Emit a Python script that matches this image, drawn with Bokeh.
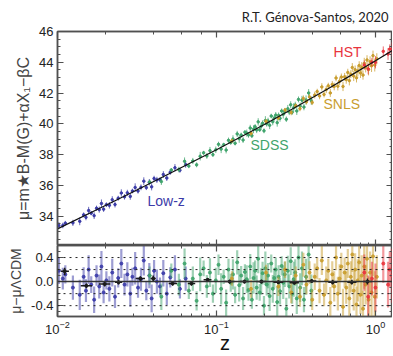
import numpy as np
from bokeh.plotting import figure
from bokeh.models import (Range1d, LogAxis, LinearAxis, SingleIntervalTicker,
                          Span, Label, NumeralTickFormatter)
from bokeh.layouts import column
from bokeh.embed import file_html
from bokeh.resources import INLINE

# ---------------- data ----------------
model_z = [0.01, 0.02, 0.03, 0.05, 0.1, 0.2, 0.3, 0.5, 0.7, 1.0, 1.3]
model_mu = [33.18, 34.70, 35.59, 36.74, 38.32, 39.96, 40.96, 42.26, 43.15, 44.10, 44.81]

lowz_z = [0.0102, 0.0108, 0.0112, 0.0125, 0.0138, 0.0146, 0.0151, 0.0157, 0.0163, 0.0170,
          0.0176, 0.0183, 0.0189, 0.0195, 0.0203, 0.0212, 0.0221, 0.0230, 0.0241, 0.0252,
          0.0264, 0.0275, 0.0287, 0.0296, 0.0308, 0.0321, 0.0335, 0.0349, 0.0362, 0.0378,
          0.0391, 0.0405, 0.0422, 0.0441, 0.0463, 0.0487, 0.0512, 0.0548, 0.0589, 0.0640]
lowz_mu = [33.40, 33.40, 33.55, 33.57, 33.67, 34.09, 33.93, 34.37, 34.20, 34.04,
           34.52, 34.43, 34.83, 34.46, 34.75, 34.71, 35.07, 34.76, 35.17, 35.51,
           35.26, 35.52, 35.29, 35.64, 35.87, 35.64, 35.88, 36.28, 35.86, 36.21,
           35.91, 36.45, 36.36, 36.38, 36.71, 36.48, 36.86, 37.15, 36.99, 37.35]
lowz_res = [0.18, 0.05, 0.12, -0.10, -0.22, 0.08, -0.15, 0.20, -0.05, -0.30,
            0.10, -0.08, 0.25, -0.18, 0.02, -0.12, 0.15, -0.25, 0.06, 0.30,
            -0.05, 0.12, -0.20, 0.08, 0.22, -0.10, 0.04, 0.35, -0.15, 0.10,
            -0.28, 0.18, 0.00, -0.08, 0.14, -0.20, 0.07, 0.20, -0.12, 0.05]
lowz_err = [0.22, 0.18, 0.15, 0.20, 0.25, 0.16, 0.19, 0.24, 0.14, 0.22,
            0.17, 0.20, 0.26, 0.18, 0.15, 0.21, 0.23, 0.19, 0.16, 0.24,
            0.18, 0.20, 0.22, 0.15, 0.27, 0.17, 0.19, 0.25, 0.16, 0.21,
            0.23, 0.18, 0.20, 0.15, 0.22, 0.19, 0.17, 0.24, 0.16, 0.20]

sdss_z = [0.038, 0.045, 0.052, 0.058, 0.063, 0.067, 0.071, 0.075, 0.079, 0.083,
          0.087, 0.091, 0.095, 0.099, 0.103, 0.107, 0.111, 0.115, 0.119, 0.123,
          0.127, 0.131, 0.135, 0.139, 0.143, 0.147, 0.151, 0.155, 0.159, 0.163,
          0.167, 0.171, 0.175, 0.179, 0.183, 0.187, 0.191, 0.195, 0.199, 0.203,
          0.207, 0.211, 0.216, 0.221, 0.226, 0.231, 0.236, 0.241, 0.246, 0.251,
          0.257, 0.263, 0.269, 0.275, 0.281, 0.287, 0.293, 0.299, 0.306, 0.313,
          0.320, 0.328, 0.336, 0.345, 0.355, 0.366, 0.380, 0.395]
sdss_mu = [36.22, 36.25, 37.01, 37.03, 37.57, 37.26, 37.59, 37.34, 37.90, 38.12,
           37.92, 38.26, 38.00, 38.32, 38.67, 38.36, 38.65, 38.30, 38.93, 38.79,
           39.01, 38.74, 39.35, 39.04, 39.27, 38.95, 39.46, 39.40, 39.28, 39.73,
           39.23, 39.65, 39.82, 39.60, 40.13, 39.62, 39.85, 40.04, 39.55, 40.22,
           40.00, 40.19, 39.91, 40.51, 40.14, 40.38, 40.57, 40.08, 40.55, 40.36,
           40.84, 40.62, 40.81, 40.30, 40.98, 40.77, 41.24, 40.75, 41.05, 41.22,
           40.84, 41.59, 41.15, 41.54, 41.09, 41.55, 42.01, 41.51]
sdss_res = [0.10, -0.25, 0.18, -0.05, 0.30, -0.15, 0.05, -0.32, 0.12, 0.22,
            -0.08, 0.15, -0.20, 0.02, 0.28, -0.12, 0.08, -0.35, 0.20, -0.02,
            0.12, -0.22, 0.32, -0.06, 0.10, -0.28, 0.16, 0.04, -0.14, 0.25,
            -0.30, 0.06, 0.18, -0.10, 0.38, -0.18, 0.00, 0.14, -0.40, 0.22,
            -0.05, 0.10, -0.24, 0.30, -0.12, 0.06, 0.20, -0.34, 0.08, -0.16,
            0.26, -0.02, 0.12, -0.45, 0.18, -0.08, 0.34, -0.20, 0.04, 0.15,
            -0.28, 0.40, -0.10, 0.22, -0.30, 0.08, 0.45, -0.15]
sdss_err = [0.15, 0.22, 0.12, 0.18, 0.25, 0.14, 0.20, 0.16, 0.28, 0.13,
            0.19, 0.24, 0.15, 0.21, 0.17, 0.26, 0.12, 0.22, 0.18, 0.15,
            0.25, 0.14, 0.20, 0.27, 0.16, 0.19, 0.13, 0.23, 0.18, 0.21,
            0.15, 0.26, 0.17, 0.20, 0.24, 0.14, 0.22, 0.19, 0.16, 0.28,
            0.18, 0.21, 0.25, 0.15, 0.23, 0.17, 0.20, 0.26, 0.19, 0.22,
            0.16, 0.27, 0.21, 0.18, 0.25, 0.20, 0.23, 0.17, 0.29, 0.22,
            0.26, 0.19, 0.24, 0.28, 0.21, 0.30, 0.25, 0.27]

snls_z = [0.125, 0.165, 0.205, 0.245, 0.270, 0.295, 0.315, 0.335, 0.352, 0.368,
          0.385, 0.400, 0.415, 0.430, 0.445, 0.460, 0.475, 0.490, 0.505, 0.520,
          0.535, 0.550, 0.565, 0.580, 0.595, 0.610, 0.625, 0.640, 0.655, 0.670,
          0.685, 0.700, 0.715, 0.730, 0.745, 0.760, 0.775, 0.790, 0.805, 0.820,
          0.835, 0.850, 0.868, 0.885, 0.905, 0.925, 0.945, 0.965, 0.990, 1.020]
snls_mu = [38.90, 39.39, 40.17, 40.38, 40.90, 40.74, 41.18, 40.99, 41.65, 41.43,
           41.75, 41.39, 41.87, 42.10, 41.81, 42.40, 41.91, 42.23, 42.47, 42.01,
           42.56, 42.43, 42.98, 42.45, 42.77, 43.04, 42.43, 43.06, 42.88, 43.34,
           42.81, 43.23, 43.66, 43.11, 43.52, 42.99, 43.44, 43.79, 43.30, 43.67,
           43.17, 43.92, 43.67, 44.15, 43.53, 44.04, 43.77, 44.43, 43.82, 44.23]
snls_res = [0.05, -0.12, 0.15, -0.08, 0.20, -0.18, 0.10, -0.25, 0.28, -0.05,
            0.15, -0.30, 0.08, 0.22, -0.15, 0.35, -0.22, 0.02, 0.18, -0.35,
            0.12, -0.08, 0.40, -0.20, 0.05, 0.25, -0.42, 0.15, -0.10, 0.30,
            -0.28, 0.08, 0.45, -0.15, 0.20, -0.38, 0.02, 0.32, -0.22, 0.10,
            -0.45, 0.25, -0.05, 0.38, -0.30, 0.15, -0.18, 0.42, -0.25, 0.08]
snls_err = [0.12, 0.15, 0.13, 0.16, 0.14, 0.18, 0.15, 0.17, 0.20, 0.16,
            0.19, 0.17, 0.22, 0.18, 0.21, 0.24, 0.19, 0.23, 0.20, 0.26,
            0.22, 0.25, 0.21, 0.28, 0.24, 0.23, 0.30, 0.25, 0.27, 0.24,
            0.31, 0.26, 0.29, 0.33, 0.27, 0.30, 0.35, 0.28, 0.32, 0.34,
            0.30, 0.37, 0.33, 0.31, 0.38, 0.35, 0.40, 0.33, 0.42, 0.36]

hst_z = [0.85, 0.90, 0.95, 1.00, 1.12, 1.20, 1.23, 1.27, 1.30]
hst_mu = [43.82, 43.57, 44.01, 44.00, 44.71, 44.54, 44.86, 44.85, 45.06]
hst_res = [0.15, -0.25, 0.05, -0.10, 0.30, -0.05, 0.20, 0.10, 0.25]
hst_err = [0.30, 0.35, 0.28, 0.40, 0.32, 0.38, 0.30, 0.45, 0.35]

bin_z = [0.0111, 0.0152, 0.0198, 0.0242, 0.0332, 0.0400, 0.0530, 0.0696, 0.0880,
         0.121, 0.150, 0.192, 0.245, 0.309, 0.397, 0.538, 0.710, 0.890]
bin_lo = [0.0105, 0.0140, 0.0182, 0.0230, 0.0310, 0.0385, 0.0500, 0.0660, 0.0830,
          0.112, 0.140, 0.178, 0.228, 0.288, 0.370, 0.505, 0.665, 0.835]
bin_hi = [0.0118, 0.0165, 0.0215, 0.0255, 0.0355, 0.0415, 0.0565, 0.0735, 0.0930,
          0.130, 0.160, 0.206, 0.263, 0.330, 0.425, 0.575, 0.760, 0.950]
bin_res = [0.17, -0.07, -0.04, -0.01, 0.05, 0.05, -0.03, -0.03, 0.03,
           0.00, 0.00, 0.00, -0.01, -0.02, 0.01, -0.01, -0.01, 0.00]
bin_err = [0.06, 0.04, 0.04, 0.04, 0.04, 0.05, 0.04, 0.04, 0.03,
           0.03, 0.03, 0.03, 0.03, 0.03, 0.03, 0.04, 0.04, 0.05]

# ---------------- styling ----------------
FONT = "Liberation Sans"
FRAME_C = "#505050"
C_LOWZ, C_SDSS, C_SNLS, C_HST = "#3b3ba8", "#3fa46c", "#c99d2e", "#e8343c"
surveys = [
    (lowz_z, lowz_mu, lowz_res, lowz_err, C_LOWZ),
    (sdss_z, sdss_mu, sdss_res, sdss_err, C_SDSS),
    (snls_z, snls_mu, snls_res, snls_err, C_SNLS),
    (hst_z, hst_mu, hst_res, hst_err, C_HST),
]
X_RANGE = Range1d(0.01, 1.28)


def style_axis(ax, labels=True):
    ax.major_tick_in = 6
    ax.major_tick_out = 0
    ax.minor_tick_in = 3
    ax.minor_tick_out = 0
    ax.axis_line_color = FRAME_C
    ax.axis_line_width = 1.5
    ax.major_tick_line_color = FRAME_C
    ax.minor_tick_line_color = FRAME_C
    ax.major_tick_line_width = 1.2
    ax.minor_tick_line_width = 1
    ax.major_label_text_font = FONT
    ax.major_label_text_color = "#222222"
    if labels:
        ax.major_label_text_font_size = "13px"
        ax.major_label_standoff = 4
    else:
        ax.major_label_text_font_size = "1px"
        ax.major_label_text_alpha = 0
        ax.major_label_standoff = 0


def base_fig(y_range, fh, top, bottom):
    p = figure(x_axis_type="log", x_range=X_RANGE, y_range=y_range,
               frame_width=335, frame_height=fh,
               min_border_left=57, min_border_right=0,
               min_border_top=top, min_border_bottom=bottom,
               output_backend="svg", toolbar_location=None)
    p.grid.visible = False
    p.outline_line_color = FRAME_C
    p.outline_line_width = 1.5
    p.background_fill_color = "white"
    p.border_fill_color = "white"
    return p


# ---------------- top panel ----------------
p1 = base_fig(Range1d(32.1, 46.0), 214, 30, 0)
p1.title.text = "R.T. Génova-Santos, 2020"
p1.title.align = "right"
p1.title.text_font = "Lato"
p1.title.text_font_size = "13px"
p1.title.text_font_style = "normal"
p1.title.text_color = "#222222"
p1.title.standoff = 13
p1.title.offset = 4
p1.yaxis.ticker = SingleIntervalTicker(interval=2, num_minor_ticks=4)
style_axis(p1.yaxis[0])
style_axis(p1.xaxis[0], labels=False)
p1.yaxis.axis_label = "μ=m\u2605B-M(G)+αX\u2081\u2212βC"
p1.yaxis.axis_label_text_font = FONT
p1.yaxis.axis_label_text_font_size = "16px"
p1.yaxis.axis_label_text_font_style = "normal"
p1.yaxis.axis_label_standoff = 4
ra = LinearAxis(ticker=SingleIntervalTicker(interval=2, num_minor_ticks=4))
style_axis(ra, labels=False)
p1.add_layout(ra, "right")
ta = LogAxis()
style_axis(ta, labels=False)
p1.add_layout(ta, "above")

for z, mu, res, err, c in surveys:
    z = np.array(z); mu = np.array(mu); err = np.array(err)
    p1.segment(z, mu - err, z, mu + err, line_color=c, line_alpha=0.75, line_width=1)
    p1.scatter(z, mu, size=2.5, color=c)
p1.line(model_z, model_mu, line_color="#111111", line_width=1.2)

for txt, zx, my, c in [("Low-z", 0.0368, 34.96, C_LOWZ), ("SDSS", 0.1636, 38.66, C_SDSS),
                       ("SNLS", 0.471, 41.26, C_SNLS), ("HST", 0.545, 44.70, C_HST)]:
    p1.add_layout(Label(x=zx, y=my, text=txt, text_color=c, text_font=FONT,
                        text_font_size="14px", text_baseline="middle", text_align="left"))

# ---------------- residual panel ----------------
p2 = base_fig(Range1d(-0.58, 0.6), 71, 0, 40)
p2.yaxis.ticker = SingleIntervalTicker(interval=0.4, num_minor_ticks=4)
p2.yaxis.formatter = NumeralTickFormatter(format="0.0")
style_axis(p2.yaxis[0])
style_axis(p2.xaxis[0])
p2.yaxis.axis_label = "μ\u2212μΛCDM"
p2.yaxis.axis_label_text_font = FONT
p2.yaxis.axis_label_text_font_size = "14px"
p2.yaxis.axis_label_text_font_style = "normal"
p2.yaxis.axis_label_standoff = 4
p2.xaxis.axis_label = "z"
p2.xaxis.axis_label_text_font = FONT
p2.xaxis.axis_label_text_font_size = "20px"
p2.xaxis.axis_label_text_font_style = "normal"
p2.xaxis.axis_label_text_color = "#111111"
p2.xaxis.axis_label_standoff = -5
ra2 = LinearAxis(ticker=SingleIntervalTicker(interval=0.4, num_minor_ticks=4))
style_axis(ra2, labels=False)
p2.add_layout(ra2, "right")
ta2 = LogAxis()
style_axis(ta2, labels=False)
p2.add_layout(ta2, "above")

for lvl in (-0.4, -0.2, 0.2, 0.4):
    p2.add_layout(Span(location=lvl, dimension="width", line_color="#222222",
                       line_dash="dotted", line_width=1))
p2.add_layout(Span(location=0, dimension="width", line_color="#333333", line_width=1.5))

for z, mu, res, err, c in surveys:
    z = np.array(z); res = np.array(res); err = np.array(err)
    p2.segment(z, res - err, z, res + err, line_color=c, line_alpha=0.5, line_width=2.2)
    p2.scatter(z, res, size=3, color=c, alpha=0.9)

bz = np.array(bin_z); br = np.array(bin_res); be = np.array(bin_err)
p2.segment(bin_lo, bin_res, bin_hi, bin_res, line_color="#1a1a1a", line_width=1.5)
p2.segment(bz, br - be, bz, br + be, line_color="#1a1a1a", line_width=1.5)
p2.scatter(bz, br, size=3, color="#1a1a1a")

layout = column(p1, p2, spacing=0)
open("out.html", "w").write(file_html(layout, INLINE))
